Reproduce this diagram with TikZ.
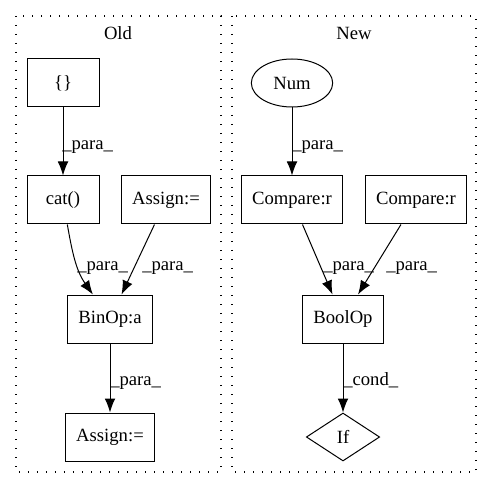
\documentclass[tikz,border=0pt]{standalone}
\usepackage{fontspec}
\setmainfont{Liberation Serif}
\usetikzlibrary{arrows.meta, shapes.geometric}

\begin{document}
\begin{tikzpicture}
      [
        x=0.75pt, y=-0.75pt,
        every node/.style={font=\fontsize{14pt}{17pt}\selectfont},
        box/.style={draw, line width=0.75pt, rectangle, minimum width=54pt,
          minimum height=36pt, inner xsep=8pt, inner ysep=4pt},
        oval/.style={draw, line width=0.75pt, ellipse, minimum width=61pt,
          minimum height=36pt, inner sep=0pt},
        rhomb/.style={draw, line width=0.75pt, diamond, minimum width=55pt,
          minimum height=36pt, inner sep=0pt},
        lbl/.style={anchor=base west, inner sep=0pt},
        cluster/.style={line width=1.1pt, dash pattern=on 1.1pt off 5.65pt},
        edge/.style={line width=0.75pt, ->, >={Latex[length=10.5pt,width=8pt]}}
      ]
      \useasboundingbox (0,0) rectangle (492,488);
      \begin{scope}[]
        % cluster
        \draw [cluster] (16,16) rectangle (221,472);
        \node (old) at (118,33) {Old};
        % nodes
        \node [box] (braces)  at (63,83)   {\{\}};
        \node [box] (cat)     at (63,200)  {cat()};
        \node [box] (assigna) at (166,200) {Assign:=};
        \node [box] (binop)   at (110,319) {BinOp:a};
        \node [box] (assignb) at (110,437) {Assign:=};
        % labels
        \node [lbl] (la) at (62,150)  {\_para\_};
        \node [lbl] (lb) at (77,270)  {\_para\_};
        \node [lbl] (lc) at (142,270) {\_para\_};
        \node [lbl] (ld) at (110,385) {\_para\_};
        % arcs
        \draw [edge] (braces) -- (cat);
        \draw [edge] (cat) to[out=-80,in=125] (binop);
        \draw [edge] (assigna) -- (binop);
        \draw [edge] (binop) -- (assignb);
      \end{scope}
      %
      \begin{scope}[]
        % cluster
        \draw [cluster] (232,16) rectangle (476,472);
        \node (new) at (354,33) {New};
        % nodes
        \node [oval]  (num)      at (292,83)  {Num};
        \node [box]   (comparea) at (292,200) {Compare:r};
        \node [box]   (compareb) at (416,200) {Compare:r};
        \node [box]   (boolop)   at (343,319) {BoolOp};
        \node [rhomb] (if)       at (343,437) {If};
        % labels
        \node [lbl] (ma) at (292,150) {\_para\_};
        \node [lbl] (mb) at (323,270) {\_para\_};
        \node [lbl] (mc) at (386,270) {\_para\_};
        \node [lbl] (md) at (343,385) {\_cond\_};
        % arcs
        \draw [edge] (num) -- (comparea);
        \draw [edge] (comparea) -- (boolop);
        \draw [edge] (compareb) -- (boolop);
        \draw [edge] (boolop) -- (if);
      \end{scope}
    \end{tikzpicture}
\end{document}
